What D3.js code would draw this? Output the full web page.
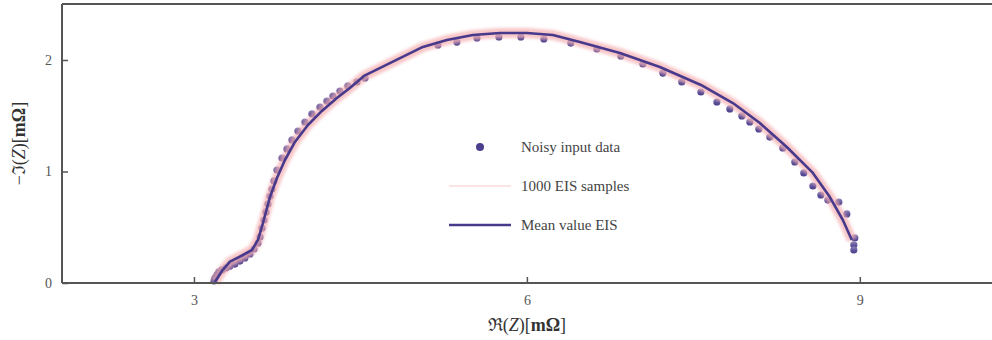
<!DOCTYPE html>
<html lang="en">
<head>
  <meta charset="UTF-8">
  <title>EIS Nyquist plot</title>
  <style>
    body { margin: 0; background: #fff; }
    svg { display: block; }
    text { font-family: "Liberation Serif", "DejaVu Serif", serif; }
  </style>
</head>
<body>
<svg width="992" height="340"></svg>
<script src="https://d3js.org/d3.v7.min.js"></script>
<script>
  // noisy measured points (Re Z, -Im Z) in mOhm
  const dataRe = [3.180, 3.189, 3.207, 3.225, 3.252, 3.288, 3.324, 3.369, 3.414, 3.459, 3.505, 3.541,
    3.577, 3.595, 3.613, 3.631, 3.649, 3.667, 3.685, 3.703, 3.721, 3.748, 3.793, 3.838, 3.883, 3.937,
    4.000, 4.063, 4.135, 4.198, 4.252, 4.315, 4.387, 4.468, 4.541, 5.198, 5.369, 5.550, 5.748, 5.946,
    6.153, 6.396, 6.631, 6.847, 7.045, 7.225, 7.396, 7.568, 7.712, 7.829, 7.937, 8.009, 8.090, 8.189,
    8.306, 8.414, 8.495, 8.577, 8.649, 8.712, 8.811, 8.883, 8.955, 8.946, 8.946];
  const dataIm = [0.018, 0.045, 0.072, 0.099, 0.117, 0.135, 0.152, 0.170, 0.197, 0.224, 0.260, 0.305,
    0.359, 0.413, 0.493, 0.565, 0.637, 0.709, 0.780, 0.843, 0.915, 1.013, 1.121, 1.202, 1.283, 1.363,
    1.444, 1.516, 1.578, 1.632, 1.677, 1.722, 1.767, 1.803, 1.839, 2.135, 2.161, 2.197, 2.206, 2.206,
    2.188, 2.152, 2.099, 2.036, 1.964, 1.883, 1.803, 1.713, 1.623, 1.561, 1.498, 1.444, 1.381, 1.309,
    1.211, 1.085, 0.987, 0.870, 0.789, 0.744, 0.726, 0.619, 0.404, 0.341, 0.296];

  // mean EIS curve
  const meanRe = [3.189, 3.252, 3.324, 3.441, 3.523, 3.577, 3.622, 3.685, 3.748, 3.820, 3.910, 4.027,
    4.153, 4.288, 4.405, 4.532, 5.063, 5.279, 5.514, 5.757, 6.000, 6.234, 6.477, 6.838, 7.198, 7.568,
    7.856, 8.099, 8.342, 8.577, 8.730, 8.847, 8.928];
  const meanIm = [0.009, 0.108, 0.191, 0.251, 0.296, 0.386, 0.538, 0.771, 0.942, 1.103, 1.265, 1.417,
    1.543, 1.659, 1.749, 1.857, 2.117, 2.179, 2.224, 2.242, 2.242, 2.224, 2.161, 2.063, 1.937, 1.776,
    1.614, 1.435, 1.220, 0.987, 0.771, 0.565, 0.386];

  const xTicks = [3, 6, 9];
  const yTicks = [0, 1, 2];
  const legendLabels = ["Noisy input data", "1000 EIS samples", "Mean value EIS"];

  const dotColor = "#4a3f8e";
  const meanColor = "#473a8c";
  const sampleColor = "#f5aeb0";
  const axisColor = "#555";

  const svg = d3.select("svg");
  const pLeft = 62, pRight = 993, pTop = 4, pBottom = 283;

  const x = d3.scaleLinear().domain([1.811, 10.2]).range([pLeft, pRight]);
  const y = d3.scaleLinear().domain([0, 2.502]).range([pBottom, pTop]);

  const defs = svg.append("defs");
  defs.append("filter").attr("id", "soft")
    .attr("x", "-10%").attr("y", "-10%").attr("width", "120%").attr("height", "120%")
    .append("feGaussianBlur").attr("stdDeviation", 1.8);

  // dots look tinted on top where the sample curves pass over them
  const grad = defs.append("linearGradient").attr("id", "dotFill")
    .attr("x1", 0).attr("y1", 0).attr("x2", 0).attr("y2", 1);
  grad.append("stop").attr("offset", "0%").attr("stop-color", "#9486b8");
  grad.append("stop").attr("offset", "60%").attr("stop-color", "#5a4e98");
  grad.append("stop").attr("offset", "100%").attr("stop-color", "#4a3f8e");

  const dots = dataRe.map((d, i) => ({ re: d, im: dataIm[i] }));
  const mean = meanRe.map((d, i) => ({ re: d, im: meanIm[i] }));

  const line = d3.line().x(d => x(d.re)).y(d => y(d.im));

  // noisy data
  svg.append("g").selectAll("circle")
    .data(dots)
    .enter()
    .append("circle")
    .attr("cx", d => x(d.re))
    .attr("cy", d => y(d.im))
    .attr("r", 3.6)
    .attr("fill", "url(#dotFill)");

  // samples band (many faint curves around the mean)
  svg.append("path")
    .datum(mean)
    .attr("d", line)
    .attr("fill", "none")
    .attr("stroke", sampleColor)
    .attr("stroke-width", 10)
    .attr("stroke-linejoin", "round")
    .attr("opacity", 0.7)
    .attr("filter", "url(#soft)");

  // mean
  svg.append("path")
    .datum(mean)
    .attr("d", line)
    .attr("fill", "none")
    .attr("stroke", meanColor)
    .attr("stroke-width", 2.6)
    .attr("stroke-linejoin", "round");

  // axes
  const xAxis = svg.append("g")
    .attr("transform", `translate(0,${pBottom})`)
    .call(d3.axisBottom(x).tickValues(xTicks).tickSize(-6).tickPadding(12).tickFormat(d3.format("d")));
  const yAxis = svg.append("g")
    .attr("transform", `translate(${pLeft},0)`)
    .call(d3.axisLeft(y).tickValues(yTicks).tickSize(-6).tickPadding(10).tickFormat(d3.format("d")));

  [xAxis, yAxis].forEach(g => {
    g.select(".domain").remove();
    g.selectAll(".tick line").attr("stroke", axisColor).attr("stroke-width", 1.5);
    g.selectAll(".tick text")
      .attr("fill", axisColor)
      .attr("font-size", "14px")
      .attr("font-family", "Liberation Serif, serif");
  });

  // spines
  const frame = svg.append("g").attr("stroke", axisColor).attr("stroke-width", 2).attr("fill", "none");
  frame.append("line").attr("x1", pLeft).attr("x2", pRight).attr("y1", pBottom).attr("y2", pBottom);
  frame.append("line").attr("x1", pLeft).attr("x2", pRight).attr("y1", pTop).attr("y2", pTop);
  frame.append("line").attr("x1", pLeft).attr("x2", pLeft).attr("y1", pTop).attr("y2", pBottom);

  // axis labels
  function mathLabel(sel, sym) {
    sel.append("tspan").text(sym);
    sel.append("tspan").text("(");
    sel.append("tspan").attr("font-style", "italic").text("Z");
    sel.append("tspan").text(")[");
    sel.append("tspan").attr("font-weight", "bold").text("mΩ");
    sel.append("tspan").text("]");
  }
  const xl = svg.append("text")
    .attr("x", x(6))
    .attr("y", 331)
    .attr("text-anchor", "middle")
    .attr("font-size", "18px")
    .attr("fill", "#333");
  mathLabel(xl, "ℜ");

  const yl = svg.append("text")
    .attr("transform", `translate(25,${(pBottom + pTop) / 2}) rotate(-90)`)
    .attr("text-anchor", "middle")
    .attr("font-size", "18px")
    .attr("fill", "#333");
  mathLabel(yl, "−ℑ");

  // legend
  const legend = svg.append("g");
  const ly = [147, 186, 225];
  legend.append("circle").attr("cx", 480).attr("cy", ly[0]).attr("r", 4).attr("fill", dotColor);
  legend.append("line").attr("x1", 449).attr("x2", 511).attr("y1", ly[1]).attr("y2", ly[1])
    .attr("stroke", "#fbe4e4").attr("stroke-width", 2);
  legend.append("line").attr("x1", 449).attr("x2", 511).attr("y1", ly[2]).attr("y2", ly[2])
    .attr("stroke", meanColor).attr("stroke-width", 2.6);
  legend.selectAll("text.lab")
    .data(legendLabels)
    .enter()
    .append("text")
    .attr("class", "lab")
    .attr("x", 521)
    .attr("y", (d, i) => ly[i] + 5)
    .attr("font-size", "15px")
    .attr("fill", "#444")
    .text(d => d);
</script>
</body>
</html>
